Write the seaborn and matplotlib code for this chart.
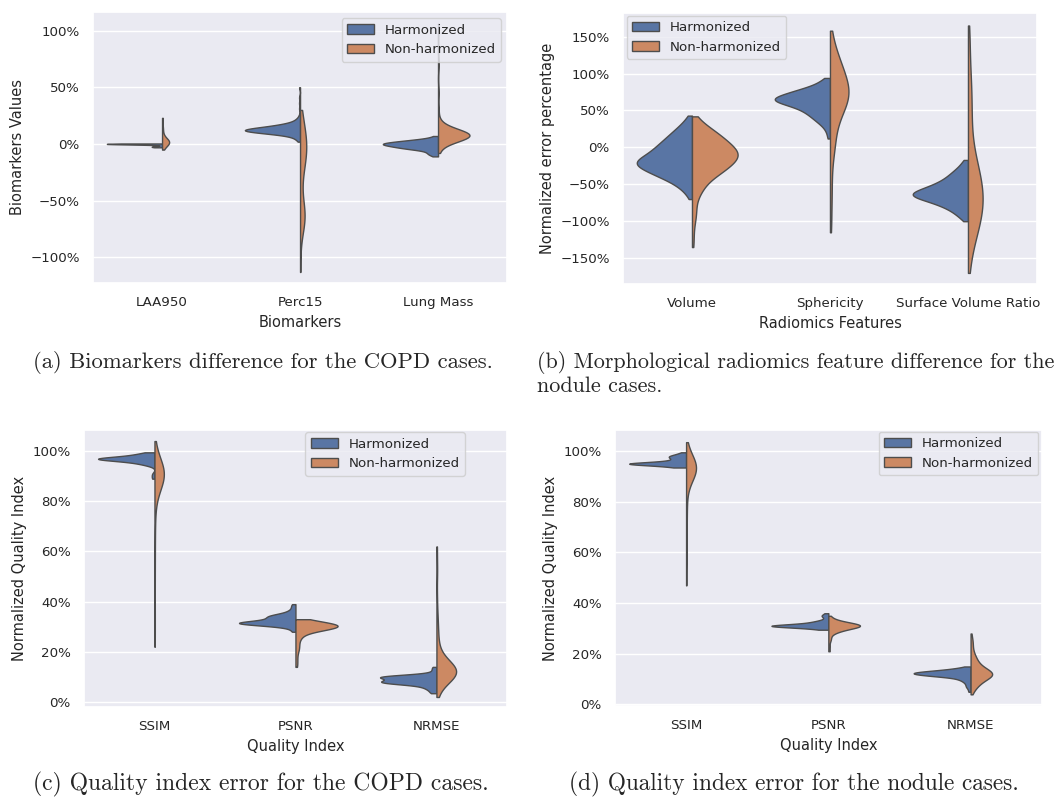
import numpy as np
import pandas as pd
import matplotlib
matplotlib.use("Agg")
import matplotlib.pyplot as plt
from matplotlib.ticker import PercentFormatter, MultipleLocator
import seaborn as sns

groups = ["Harmonized", "Non-harmonized"]

# every series is a list of (value in %, number of cases)

# (a) biomarkers, COPD cases
biomarkers = ["LAA950", "Perc15", "Lung Mass"]
laa950_harm = [(-3.0, 1), (-2.5, 1), (-2.2, 1), (-0.4, 1), (-0.3, 1), (-0.2, 1), (-0.1, 2), (0.0, 4),
               (0.1, 2), (0.2, 1), (0.3, 1), (0.4, 1)]
laa950_non = [(-5, 1), (-1, 1), (0, 1), (0.5, 1), (1, 1), (1.5, 1), (2, 2), (2.5, 1), (3, 1), (4, 1),
              (8, 1), (14, 1), (23, 1)]
perc15_harm = [(2, 1), (4, 2), (6, 3), (8, 5), (9, 6), (10, 10), (11, 14), (12, 18), (13, 14), (14, 10),
               (15, 8), (16, 6), (17, 5), (18, 4), (20, 3), (22, 2), (25, 1), (31, 1), (36, 1), (41, 1), (50, 1)]
perc15_non = [(-113, 1), (-80, 1), (-72, 1), (-68, 2), (-65, 3), (-62, 3), (-58, 2), (-50, 1), (-40, 1),
              (-30, 1), (-25, 1), (-20, 2), (-15, 2), (-10, 3), (-5, 3), (0, 3), (5, 3), (10, 2), (15, 2),
              (20, 1), (25, 1), (30, 1)]
lung_harm = [(-11, 1), (-9, 2), (-7, 2), (-5, 3), (-4, 3), (-3, 4), (-2, 4), (-1, 5), (0, 6), (1, 5), (2, 4),
             (3, 3), (4, 2), (5, 1), (7, 1)]
lung_non = [(-8, 1), (-4, 1), (-2, 1), (0, 2), (2, 3), (4, 4), (5, 6), (6, 8), (7, 10), (8, 11), (9, 9),
            (10, 7), (12, 5), (14, 3), (16, 2), (18, 1), (21, 1), (30, 1), (45, 1), (70, 1), (106, 1)]

# (b) morphological radiomics features, nodule cases
features = ["Volume", "Sphericity", "Surface Volume Ratio"]
volume_harm = [(-70, 1), (-65, 1), (-60, 2), (-55, 3), (-50, 4), (-45, 6), (-40, 8), (-35, 10), (-30, 12),
               (-25, 14), (-20, 15), (-15, 13), (-10, 11), (-5, 10), (0, 9), (5, 8), (10, 7), (15, 6), (20, 5),
               (25, 4), (30, 3), (35, 2), (40, 1), (43, 1)]
volume_non = [(42, 1), (40, 1), (35, 2), (30, 3), (25, 5), (20, 6), (15, 7), (10, 8), (5, 9), (0, 10), (-5, 11),
              (-10, 12), (-15, 11), (-20, 10), (-25, 9), (-30, 8), (-35, 7), (-40, 5), (-45, 4), (-50, 3),
              (-55, 3), (-60, 2), (-65, 2), (-70, 1), (-75, 1), (-80, 1), (-85, 1), (-90, 1), (-95, 1),
              (-100, 1), (-110, 1), (-122, 1), (-135, 1)]
spher_harm = [(12, 1), (20, 1), (25, 1), (30, 2), (35, 3), (40, 4), (45, 5), (50, 6), (55, 8), (60, 11),
              (65, 15), (70, 11), (75, 9), (80, 6), (85, 3), (90, 2), (94, 1)]
spher_non = [(-115, 1), (-95, 1), (-75, 1), (-60, 1), (-45, 1), (-30, 1), (-15, 1), (-5, 2), (5, 2), (15, 2),
             (25, 2), (35, 3), (45, 4), (55, 6), (65, 8), (75, 8), (85, 7), (95, 6), (105, 5), (115, 4),
             (125, 3), (135, 2), (145, 1), (158, 1)]
svr_harm = [(-100, 1), (-95, 2), (-90, 3), (-85, 4), (-80, 6), (-75, 8), (-70, 11), (-65, 15), (-60, 13),
            (-55, 10), (-50, 8), (-45, 6), (-40, 5), (-35, 4), (-30, 3), (-25, 2), (-20, 1), (-17, 1)]
svr_non = [(-170, 1), (-155, 1), (-140, 2), (-130, 2), (-120, 3), (-110, 4), (-100, 5), (-90, 5), (-80, 6),
           (-70, 6), (-60, 6), (-50, 5), (-40, 5), (-30, 4), (-20, 3), (-10, 3), (0, 2), (15, 2), (30, 2),
           (45, 2), (60, 2), (75, 2), (90, 2), (105, 1), (120, 1), (135, 1), (150, 1), (165, 1)]

# (c) quality index, COPD cases
quality = ["SSIM", "PSNR", "NRMSE"]
ssim_copd_harm = [(89, 1), (90, 1), (91, 1), (94, 1), (94.5, 2), (95, 3), (95.5, 4), (96, 6), (96.5, 10),
                  (97, 16), (97.5, 8), (98, 5), (98.5, 4), (99, 3), (99.5, 2)]
ssim_copd_non = [(22, 1), (30, 1), (38, 1), (47, 1), (55, 1), (62, 1), (68, 1), (73, 1), (77, 1), (80, 1),
                 (82, 1), (84, 2), (86, 2), (87, 3), (88, 4), (89, 5), (90, 6), (91, 7), (92, 6), (93, 5),
                 (94, 4), (95, 3), (96, 2), (98, 1), (100, 1), (104, 1)]
psnr_copd_harm = [(28, 1), (29, 1), (30, 2), (30.5, 3), (31, 6), (31.5, 12), (32, 5), (32.5, 3), (33, 3),
                  (33.5, 3), (34, 4), (34.5, 3), (35, 3), (36, 2), (37, 1), (38, 1), (39, 1)]
psnr_copd_non = [(14, 1), (16, 1), (18, 1), (20, 1), (21, 1), (22, 1), (23, 1), (24, 1), (25, 1), (26, 2),
                 (27, 2), (28, 2), (28.5, 3), (29, 4), (29.5, 6), (30, 9), (30.5, 8), (31, 7), (31.5, 5),
                 (32, 3), (32.5, 2), (33, 1)]
nrmse_copd_harm = [(3.5, 1), (4, 1), (5, 2), (6, 3), (7, 4), (7.5, 6), (8, 8), (8.5, 5), (9, 4), (9.5, 5),
                   (10, 9), (10.5, 6), (11, 2), (12, 1), (13, 1), (14, 1)]
nrmse_copd_non = [(2, 1), (4, 1), (6, 2), (8, 3), (9, 4), (10, 6), (11, 8), (12, 9), (13, 8), (14, 6), (15, 4),
                  (16, 3), (17, 2), (18, 2), (20, 2), (22, 1), (24, 1), (26, 1), (28, 1), (30, 1), (33, 1),
                  (36, 1), (42, 1), (50, 1), (55, 1), (62, 1)]

# (d) quality index, nodule cases
ssim_nod_harm = [(93.5, 2), (94, 3), (94.5, 5), (95, 16), (95.5, 5), (96, 3), (96.5, 2), (97, 2), (97.5, 3),
                 (98, 3), (98.5, 2), (99, 1), (99.5, 1)]
ssim_nod_non = [(47, 1), (56, 1), (62, 1), (67, 1), (72, 1), (76, 1), (80, 1), (83, 1), (86, 1), (88, 2),
                (89, 2), (90, 3), (91, 4), (92, 4), (93, 5), (94, 5), (95, 4), (96, 4), (97, 3), (98, 2),
                (99, 1), (101, 1), (103.5, 1)]
psnr_nod_harm = [(29.5, 1), (30, 2), (30.5, 4), (31, 14), (31.5, 4), (32, 3), (32.5, 2), (33, 2), (34, 1),
                 (35, 2), (36, 1)]
psnr_nod_non = [(21, 1), (23, 1), (25, 1), (26, 1), (27, 1), (28, 1), (28.5, 2), (29, 2), (29.5, 3), (30, 4),
                (30.5, 6), (31, 8), (31.5, 7), (32, 5), (32.5, 3), (33, 2), (33.5, 1), (34, 1), (35, 1)]
nrmse_nod_harm = [(5, 1), (6, 1), (7, 2), (8, 2), (9, 3), (10, 5), (11, 8), (11.5, 9), (12, 12), (12.5, 14),
                  (13, 10), (13.5, 6), (14, 4), (14.5, 2), (15, 1)]
nrmse_nod_non = [(4, 1), (5, 1), (6, 2), (7, 3), (8, 4), (9, 5), (10, 7), (11, 10), (12, 12), (13, 10), (14, 7),
                 (15, 5), (16, 4), (17, 3), (18, 3), (19, 2), (20, 2), (21, 1), (22, 1), (23, 1), (24, 1),
                 (25, 1), (26, 1), (28, 1)]


def long_table(cats, series):
    frames = []
    for cat, pair in zip(cats, series):
        for grp, counts in zip(groups, pair):
            vals, n = zip(*counts)
            frames.append(pd.DataFrame({"cat": cat, "group": grp, "value": np.repeat(vals, n)}))
    return pd.concat(frames, ignore_index=True)


def draw(ax, df, cats, xlabel, ylabel, ylim, step, loc, anchor, bw=0.8):
    # one call per category so both halves share the same density scale (old scale_hue behaviour)
    for cat in cats:
        sns.violinplot(data=df[df["cat"] == cat], x="cat", y="value", hue="group",
                       order=cats, hue_order=groups, split=True, inner=None,
                       cut=0, bw_adjust=bw, common_norm=True,
                       linewidth=1, linecolor=".3", ax=ax)
    ax.set_ylim(*ylim)
    ax.yaxis.set_major_locator(MultipleLocator(step))
    ax.yaxis.set_major_formatter(PercentFormatter(100, decimals=0))
    ax.set_xlabel(xlabel)
    ax.set_ylabel(ylabel)
    handles, labels = ax.get_legend_handles_labels()
    ax.legend(handles[:2], labels[:2], loc=loc, bbox_to_anchor=anchor, borderaxespad=0)


sns.set_theme(style="darkgrid", context="notebook", font_scale=0.88)

fig = plt.figure(figsize=(10.55, 8), dpi=100)
ax_a = fig.add_axes([0.0882, 0.6463, 0.3924, 0.3388])
ax_b = fig.add_axes([0.5905, 0.6450, 0.3924, 0.3388])
ax_c = fig.add_axes([0.0796, 0.1159, 0.4009, 0.3466])
ax_d = fig.add_axes([0.5829, 0.1175, 0.4045, 0.3450])

df_a = long_table(biomarkers, [(laa950_harm, laa950_non), (perc15_harm, perc15_non), (lung_harm, lung_non)])
df_b = long_table(features, [(volume_harm, volume_non), (spher_harm, spher_non), (svr_harm, svr_non)])
df_c = long_table(quality, [(ssim_copd_harm, ssim_copd_non), (psnr_copd_harm, psnr_copd_non),
                            (nrmse_copd_harm, nrmse_copd_non)])
df_d = long_table(quality, [(ssim_nod_harm, ssim_nod_non), (psnr_nod_harm, psnr_nod_non),
                            (nrmse_nod_harm, nrmse_nod_non)])

draw(ax_a, df_a, biomarkers, "Biomarkers", "Biomarkers Values", (-122.7, 116.5), 50,
     "upper right", (0.9855, 0.977))
draw(ax_b, df_b, features, "Radiomics Features", "Normalized error percentage", (-185, 182), 50,
     "upper left", (0.009, 0.990))
draw(ax_c, df_c, quality, "Quality Index", "Normalized Quality Index", (-2.1, 108.4), 20,
     "upper right", (0.9007, 0.9917))
draw(ax_d, df_d, quality, "Quality Index", "Normalized Quality Index", (-0.6, 108.3), 20,
     "upper right", (0.992, 0.9938))

cap = dict(family="cmr10", va="center", ha="left")
fig.text(33 / 1055, 1 - 362 / 800, "(a) Biomarkers difference for the COPD cases.", fontsize=16.3, **cap)
fig.text(537 / 1055, 1 - 362 / 800, "(b) Morphological radiomics feature difference for the", fontsize=15.9, **cap)
fig.text(537 / 1055, 1 - 386 / 800, "nodule cases.", fontsize=15.9, **cap)
fig.text(33 / 1055, 1 - 784 / 800, "(c) Quality index error for the COPD cases.", fontsize=17.0, **cap)
fig.text(569 / 1055, 1 - 784 / 800, "(d) Quality index error for the nodule cases.", fontsize=16.8, **cap)

fig.savefig("out.png", dpi=100)
